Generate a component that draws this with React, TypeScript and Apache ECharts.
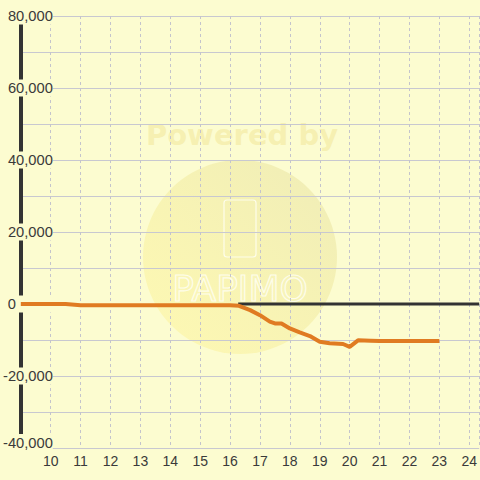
import React, { useEffect, useRef } from "react";
import * as echarts from "echarts";

const hours = [9, 10.5, 11, 16, 16.3, 16.67, 17, 17.33, 17.5, 17.72, 18, 18.33, 18.67, 19, 19.33, 19.78, 20, 20.28, 20.7, 21, 23];
const values = [0, 0, -350, -350, -500, -1700, -3100, -4900, -5400, -5400, -6800, -7900, -8900, -10500, -10900, -11100, -11900, -10100, -10200, -10300, -10300];
const zeroLineHours = [16.27, 24.333];
const zeroLineValues = [0, 0];
const yMin = -40000;
const yMax = 80000;
const yStep = 20000;
const xMin = 9;
const xMax = 24.333;

const BG = "#fcfcd0";

export default function App() {
  const ref = useRef<HTMLDivElement>(null);
  useEffect(() => {
    if (!ref.current) return;
    const chart = echarts.init(ref.current, null, { renderer: "svg" });
    chart.setOption({
      animation: false,
      backgroundColor: BG,
      textStyle: { fontFamily: "Liberation Sans, Arial, sans-serif" },
      grid: { left: 20, right: 0, top: 16, bottom: 32, containLabel: false },
      graphic: [
        {
          type: "circle",
          z: -10,
          shape: { cx: 240, cy: 257, r: 97 },
          style: {
            fill: new echarts.graphic.LinearGradient(0, 1, 1, 0, [
              { offset: 0, color: "rgba(255,245,150,0.5)" },
              { offset: 1, color: "rgba(232,228,170,0.65)" },
            ]),
          },
        },
        {
          type: "text",
          z: -10,
          x: 242,
          y: 135,
          style: {
            text: "Powered by",
            fontSize: 29,
            fontWeight: "bold",
            fontFamily: "DejaVu Sans, sans-serif",
            fill: "rgba(240,225,140,0.45)",
            align: "center",
            verticalAlign: "middle",
          },
        },
        {
          type: "rect",
          z: -9,
          shape: { x: 224, y: 200, width: 32, height: 57, r: 3 },
          style: { fill: "none", stroke: "rgba(255,255,245,0.85)", lineWidth: 1.2 },
        },
        {
          type: "text",
          z: -9,
          x: 240,
          y: 288,
          style: {
            text: "PAPIMO",
            fontSize: 36,
            fontFamily: "DejaVu Sans, sans-serif",
            fill: "rgba(255,255,240,0.1)",
            stroke: "rgba(255,255,245,0.85)",
            lineWidth: 1.2,
            align: "center",
            verticalAlign: "middle",
          },
        },
      ],
      xAxis: {
        type: "value",
        min: xMin,
        max: xMax,
        interval: 1,
        axisLine: { show: false },
        axisTick: { show: false },
        axisLabel: {
          showMinLabel: false,
          showMaxLabel: false,
          fontSize: 14,
          color: "#3a3a3a",
          margin: 6,
        },
        splitLine: {
          show: true,
          lineStyle: { color: "#c4c4cc", type: [3, 3], width: 1 },
        },
      },
      yAxis: {
        type: "value",
        min: yMin,
        max: yMax,
        interval: yStep,
        axisLine: { show: true, onZero: false, lineStyle: { color: "#333333", width: 4 } },
        axisTick: { show: false },
        axisLabel: {
          align: "right",
          margin: -32,
          fontSize: 14.7,
          color: "#3a3a3a",
          backgroundColor: BG,
          padding: [1, 0, 1, 0],
          formatter: (v: number) =>
            v === 0
              ? "{z|0}"
              : v === yMin
              ? "{b|" + v.toLocaleString("en-US") + "}"
              : v.toLocaleString("en-US"),
          rich: {
            z: { width: 45, align: "left", fontSize: 14.7, color: "#3a3a3a" },
            b: { padding: [0, 0, 11, 0], fontSize: 14.7, color: "#3a3a3a" },
          },
        },
        splitLine: { show: true, lineStyle: { color: "#c8c8d0", width: 1 } },
        minorTick: { show: false, splitNumber: 2 },
        minorSplitLine: { show: true, lineStyle: { color: "#c8c8d0", width: 1 } },
      },
      series: [
        {
          type: "line",
          data: zeroLineHours.map((h, i) => [h, zeroLineValues[i]]),
          showSymbol: false,
          lineStyle: { color: "#333333", width: 3 },
          silent: true,
          z: 2,
        },
        {
          type: "line",
          data: hours.map((h, i) => [h, values[i]]),
          showSymbol: false,
          lineStyle: { color: "#e07b22", width: 4 },
          z: 3,
        },
      ],
    });
    return () => chart.dispose();
  }, []);
  return <div ref={ref} style={{ width: 480, height: 480, position: "absolute", left: 0, top: 0 }} />;
}
